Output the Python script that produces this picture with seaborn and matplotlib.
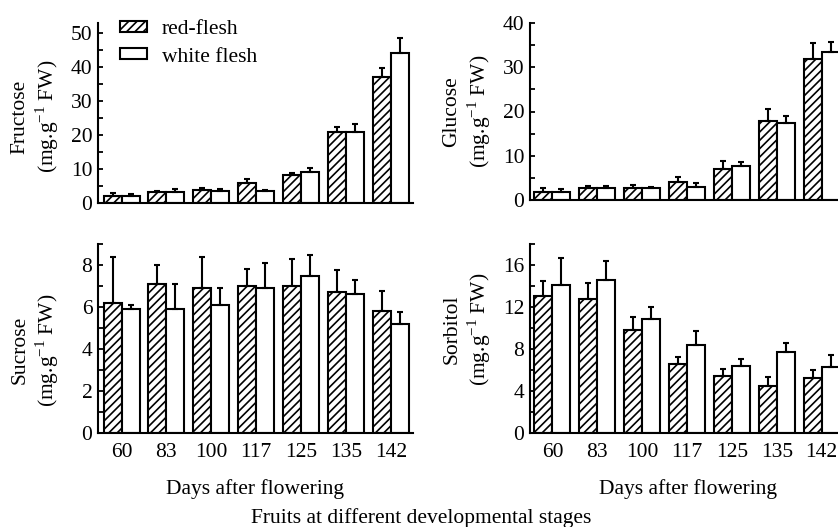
import pandas as pd
import matplotlib
matplotlib.use('Agg')
import matplotlib.pyplot as plt
import matplotlib.patches as mpatches
import seaborn as sns

# dados
dias = ['60', '83', '100', '117', '125', '135', '142']
tipos = ['red-flesh', 'white flesh']

frutose_red = [2.1, 3.3, 3.8, 5.9, 8.3, 20.9, 37.0]
frutose_red_err = [0.8, 0.3, 0.7, 1.3, 0.5, 1.3, 2.8]
frutose_white = [2.1, 3.1, 3.6, 3.6, 9.0, 20.9, 44.2]
frutose_white_err = [0.4, 1.1, 0.6, 0.3, 1.4, 2.4, 4.3]

glicose_red = [1.7, 2.6, 2.6, 4.1, 7.1, 17.9, 31.9]
glicose_red_err = [1.1, 0.6, 0.8, 1.2, 1.8, 2.7, 3.5]
glicose_white = [1.7, 2.7, 2.7, 2.9, 7.7, 17.3, 33.5]
glicose_white_err = [0.7, 0.4, 0.3, 0.9, 0.8, 1.7, 2.3]

sacarose_red = [6.2, 7.1, 6.9, 7.0, 7.0, 6.7, 5.8]
sacarose_red_err = [2.2, 0.9, 1.5, 0.8, 1.3, 1.05, 0.95]
sacarose_white = [5.9, 5.9, 6.1, 6.9, 7.5, 6.6, 5.2]
sacarose_white_err = [0.2, 1.2, 0.8, 1.2, 1.0, 0.7, 0.55]

sorbitol_red = [13.05, 12.77, 9.85, 6.53, 5.45, 4.44, 5.2]
sorbitol_red_err = [1.4, 1.5, 1.2, 0.75, 0.6, 0.9, 0.8]
sorbitol_white = [14.13, 14.58, 10.84, 8.4, 6.37, 7.7, 6.27]
sorbitol_white_err = [2.5, 1.8, 1.2, 1.35, 0.7, 0.85, 1.2]

plt.rcParams['font.family'] = ['Liberation Serif', 'DejaVu Serif']
plt.rcParams['mathtext.fontset'] = 'custom'
plt.rcParams['mathtext.rm'] = 'Liberation Serif'
plt.rcParams['font.size'] = 15.5
plt.rcParams['hatch.linewidth'] = 1.2

W, H = 838, 527
fig = plt.figure(figsize=(W / 100, H / 100), dpi=100)


def eixo(x0, y_top, y_bot, largura=315):
    return fig.add_axes([x0 / W, 1 - y_bot / H, largura / W, (y_bot - y_top) / H])


def painel(ax, red, red_err, white, white_err, nome, ymax, passo, xlim0, label_y, mostrar_x):
    df = pd.DataFrame({
        'dia': dias * 2,
        'tipo': [tipos[0]] * 7 + [tipos[1]] * 7,
        'valor': red + white,
    })
    sns.barplot(data=df, x='dia', y='valor', hue='tipo', order=dias, hue_order=tipos,
                palette=['white', 'white'], edgecolor='black', linewidth=1.5,
                errorbar=None, legend=False, ax=ax, saturation=1, width=0.8)
    for barra in ax.containers[0]:
        barra.set_hatch('////')
    for cont, erros in zip(ax.containers, [red_err, white_err]):
        xs = [b.get_x() + b.get_width() / 2 for b in cont]
        ys = [b.get_height() for b in cont]
        ax.errorbar(xs, ys, yerr=[[0] * len(erros), erros], fmt='none',
                    ecolor='black', elinewidth=1.5, capsize=2.5, capthick=1.5, zorder=1)
    sns.despine(ax=ax)
    for lado in ['left', 'bottom']:
        ax.spines[lado].set_linewidth(1.5)
    ax.set_xlim(xlim0, xlim0 + 7.02)
    ax.set_ylim(0, ymax)
    ticks = [i * passo for i in range(int(ymax / passo) + 1)]
    ax.set_yticks(ticks)
    ax.set_yticklabels([f'{t:g}' if i % 2 == 0 else '' for i, t in enumerate(ticks)])
    ax.tick_params(axis='y', direction='in', length=3.5, width=1.3, pad=4)
    ax.tick_params(axis='x', length=0, pad=7)
    ax.set_ylabel(nome + '\n(mg.g$^{\\mathregular{-1}}$ FW)', linespacing=1.2)
    ax.yaxis.set_label_coords(-37 / 315, label_y)
    if mostrar_x:
        ax.set_xlabel('Days after flowering')
        ax.xaxis.set_label_coords(0.5, -0.245)
    else:
        ax.set_xlabel('')
        ax.set_xticklabels([])


ax1 = eixo(98, 23, 203)
painel(ax1, frutose_red, frutose_red_err, frutose_white, frutose_white_err,
       'Fructose', 52.9, 5, -0.525, 0.48, False)
ax2 = eixo(530, 23, 200)
painel(ax2, glicose_red, glicose_red_err, glicose_white, glicose_white_err,
       'Glucose', 40, 5, -0.5, 0.5, False)
ax3 = eixo(98, 244, 433)
painel(ax3, sacarose_red, sacarose_red_err, sacarose_white, sacarose_white_err,
       'Sucrose', 9, 1, -0.525, 0.44, True)
ax4 = eixo(530, 244, 433)
painel(ax4, sorbitol_red, sorbitol_red_err, sorbitol_white, sorbitol_white_err,
       'Sorbitol', 18, 2, -0.5, 0.55, True)

# legenda no primeiro painel
h1 = mpatches.Patch(facecolor='white', edgecolor='black', hatch='////', linewidth=1.5, label=tipos[0])
h2 = mpatches.Patch(facecolor='white', edgecolor='black', linewidth=1.5, label=tipos[1])
fig.legend(handles=[h1, h2], loc='upper left', bbox_to_anchor=(120 / W, 1 - 20 / H),
           frameon=False, borderpad=0, borderaxespad=0, handlelength=1.25,
           handleheight=0.4, handletextpad=0.7, labelspacing=0.4)

fig.text(421 / W, 1 - 518 / H, 'Fruits at different developmental stages',
         ha='center', va='center')

fig.savefig('out.png', dpi=100)
